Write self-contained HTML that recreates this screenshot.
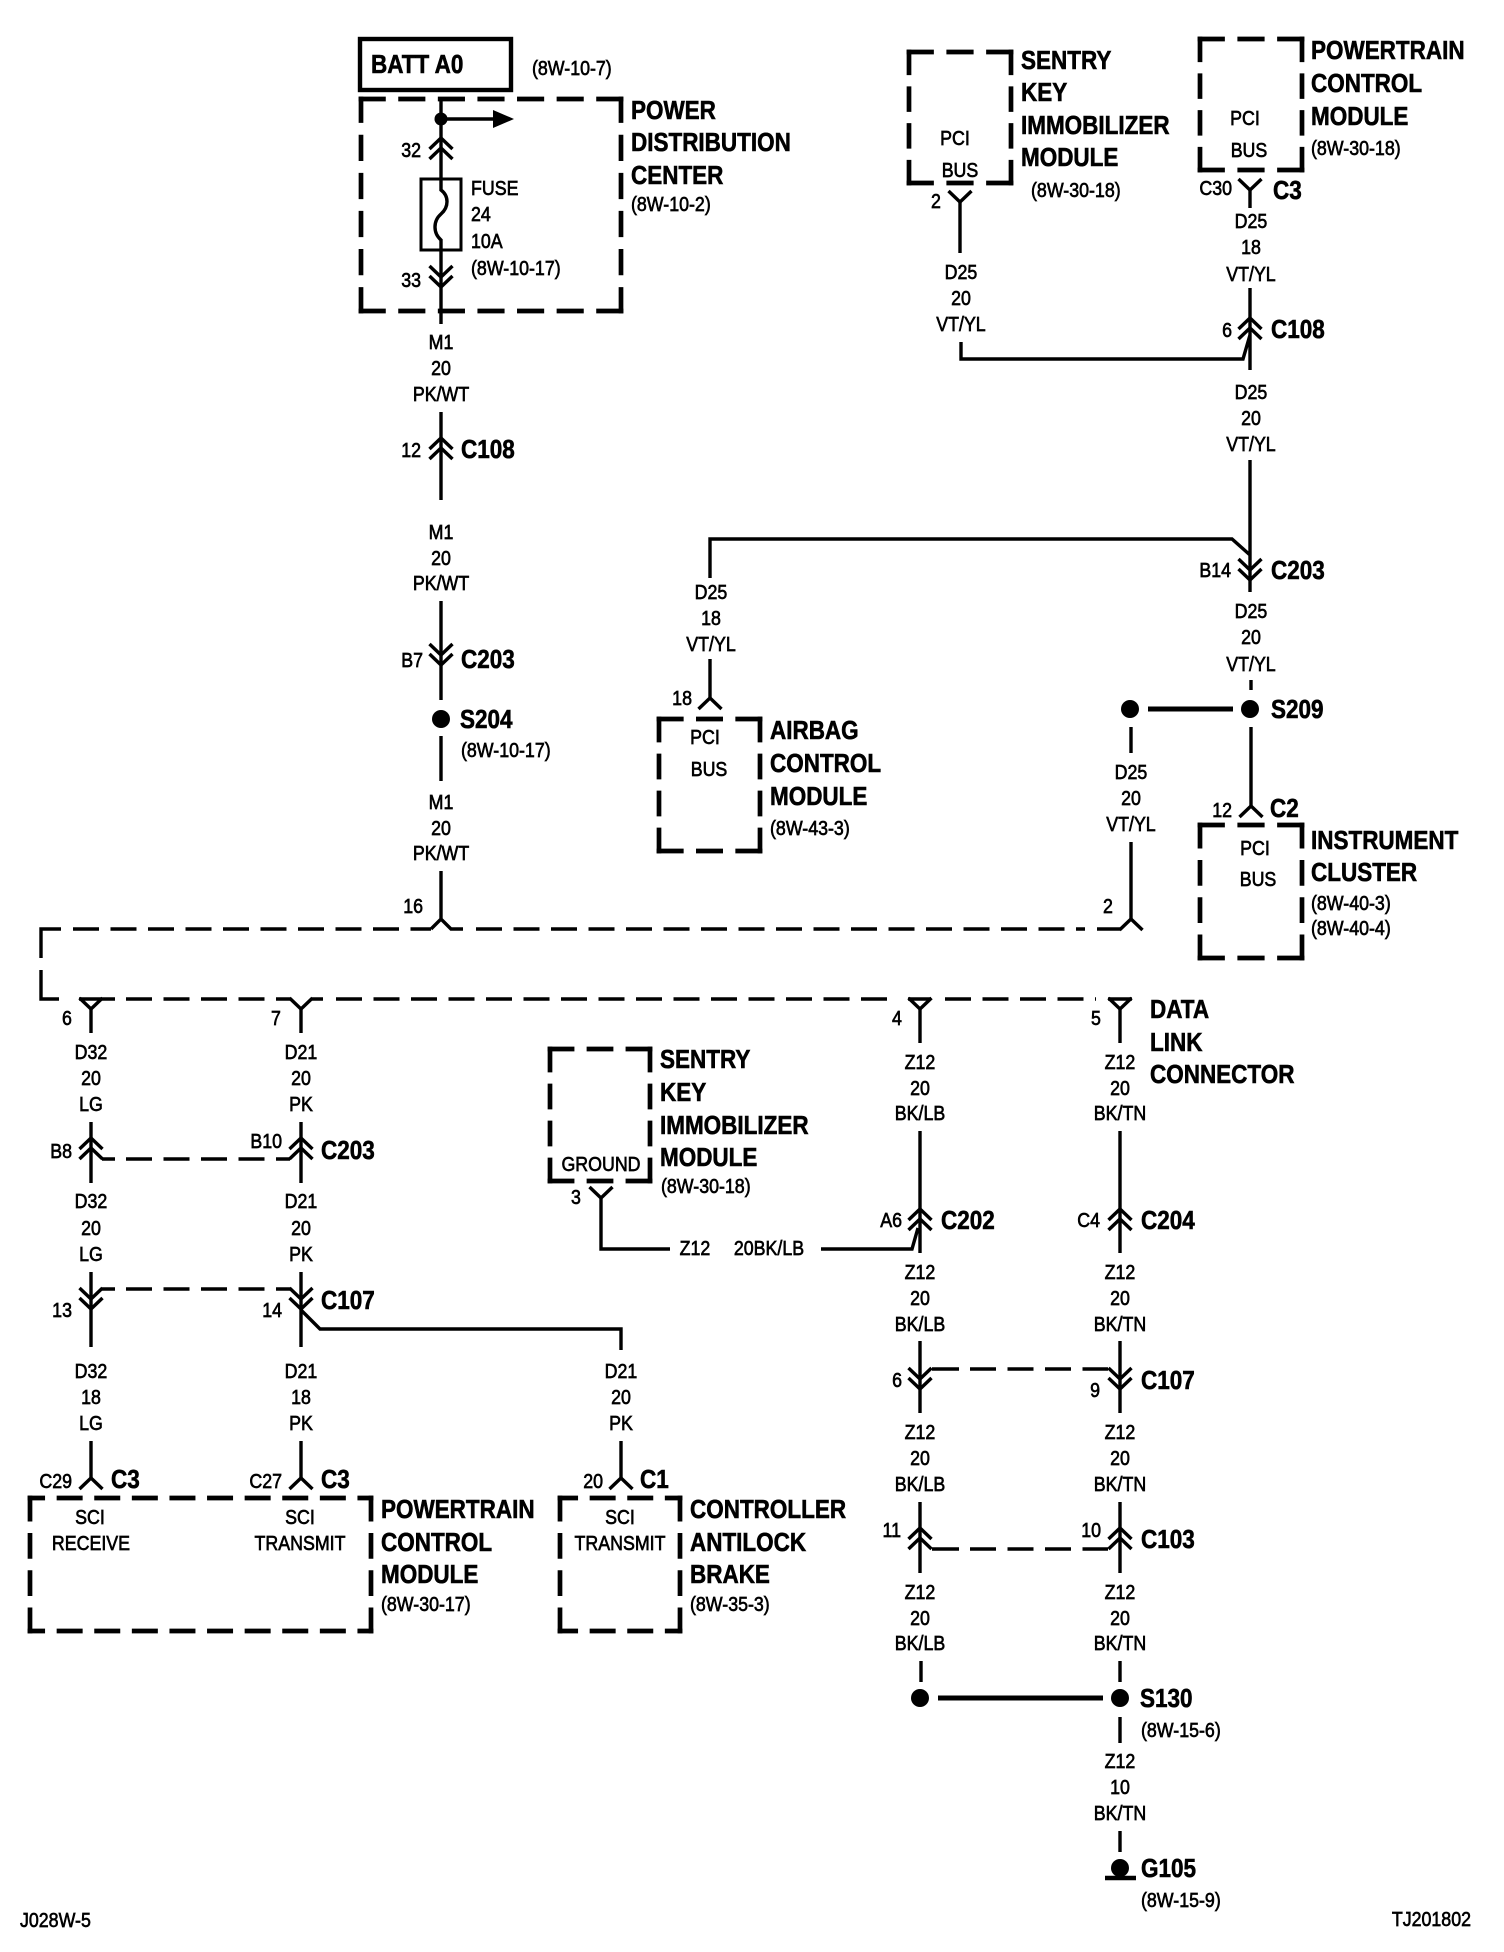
<!DOCTYPE html>
<html><head><meta charset="utf-8"><style>
html,body{margin:0;padding:0;background:#fff}
svg{display:block}
text{font-family:"Liberation Sans",sans-serif;fill:#000;transform-box:fill-box;transform-origin:left center}
.s{font-size:20px;stroke:#000;stroke-width:.65;transform:scaleX(.89)}
.b{font-size:26px;font-weight:bold;stroke:#000;stroke-width:.6;transform:scaleX(.865)}
.m{text-anchor:middle;transform-origin:center}
.e{text-anchor:end;transform-origin:right center}
.w{fill:none;stroke:#000;stroke-width:3.4}
.d{fill:none;stroke:#000;stroke-width:4.7;stroke-dasharray:21.3 16.3;stroke-linecap:square}
.l{fill:none;stroke:#000;stroke-width:3.4;stroke-dasharray:26 11.5}
</style></head><body>
<svg width="1504" height="1952" viewBox="0 0 1504 1952" xmlns="http://www.w3.org/2000/svg">
<defs>
<path id="up" class="w" d="M-11.5,11L0,0L11.5,11M-11.5,21L0,10L11.5,21"/>
<path id="dn" class="w" d="M-11.5,-11L0,0L11.5,-11M-11.5,-1L0,10L11.5,-1"/>
<path id="y" class="w" d="M-11.5,-11L0,0L11.5,-11"/>
<path id="a" class="w" d="M-11.5,11L0,0L11.5,11"/>
</defs>
<rect width="1504" height="1952" fill="#fff"/>

<!-- boxes -->
<rect x="360" y="39" width="151" height="51" fill="none" stroke="#000" stroke-width="4.4"/>
<path class="d" pathLength="493.8" d="M361,99H621M361,311H621"/><path class="d" pathLength="418.6" d="M361,99V311M621,99V311"/>
<path class="d" pathLength="193" d="M909,52H1011M909,183H1011"/><path class="d" pathLength="268.2" d="M909,52V183M1011,52V183"/>
<path class="d" pathLength="193" d="M1200,39H1302M1200,170H1302"/><path class="d" pathLength="268.2" d="M1200,39V170M1302,39V170"/>
<path class="d" pathLength="193" d="M659,719H760M659,851H760"/><path class="d" pathLength="268.2" d="M659,719V851M760,719V851"/>
<path class="d" pathLength="193" d="M1200,825H1302M1200,958H1302"/><path class="d" pathLength="268.2" d="M1200,825V958M1302,825V958"/>
<path class="d" pathLength="193" d="M550,1049H650M550,1181H650"/><path class="d" pathLength="268.2" d="M550,1049V1181M650,1049V1181"/>
<path class="d" stroke-dashoffset="8.6" d="M30,1498H371M30,1631H371"/><path class="d" pathLength="268.2" d="M30,1498V1631M371,1498V1631"/>
<path class="d" stroke-dashoffset="5.6" d="M560,1498H680M560,1631H680"/><path class="d" pathLength="268.2" d="M560,1498V1631M680,1498V1631"/>
<rect x="421" y="179" width="40" height="71" fill="none" stroke="#000" stroke-width="3"/>

<!-- wires -->
<path class="w" d="M441,99V190C449,196 449,207 441,214C433,221 433,233 441,240V324
M441,119H494
M441,412V500M441,601V700M441,736V781M441,871V919
M1131,842V919M1131,727V753
M61,929H41V958M41,970V999H59M431,929L441,919L451,929H463M1097,929H1120
M79,999H103M103,999H115M277,999H290M312,999H323M908,999H931M1108,999H1132
M91,1008V1033M301,1008V1033
M91,1122V1183M301,1122V1183
M102,1159H115M277,1159H290
M91,1272V1347M301,1272V1347
M102,1289H115M277,1289H290
M301,1310L320,1329H621V1350
M91,1441V1478M301,1441V1478M621,1441V1478
M960,202V253M961,342V359H1243L1250,335
M1250,190V208M1250,288V370M1250,460V592
M710,578V539H1232L1250,555
M1251,680V690M1251,727V806
M601,1198V1249H670M821,1249H912L918,1228
M710,659V698
M920,1009V1043M1120,1009V1043
M920,1131V1253M1120,1131V1253
M920,1341V1413M1120,1341V1413
M932,1369H959M1083,1369H1108
M920,1502V1573M1120,1502V1573
M932,1549H959M1083,1549H1108
M921,1661V1682M1120,1661V1682M1120,1717V1743M1120,1831V1852"/>
<path class="l" d="M73,929H431M476,929H1085M126,999H277M336,999H896M945,999H1096M126,1159H277M126,1289H277M970,1369H1083M970,1549H1083"/>
<polygon points="493,110 514,119 493,128"/>
<circle cx="441" cy="119" r="6.5"/>

<!-- connector marks -->
<use href="#up" x="441" y="138"/><use href="#dn" x="441" y="277"/>
<use href="#up" x="441" y="438"/><use href="#dn" x="441" y="655"/>
<use href="#y" x="960" y="202"/><use href="#y" x="1250" y="190"/>
<use href="#up" x="1250" y="318"/><use href="#dn" x="1250" y="570"/>
<use href="#a" x="710" y="698"/><use href="#a" x="1251" y="806"/>
<use href="#a" x="1131" y="919"/>
<use href="#y" x="91" y="1009"/><use href="#y" x="301" y="1009"/><use href="#y" x="920" y="1009"/><use href="#y" x="1120" y="1009"/>
<use href="#up" x="91" y="1138"/><use href="#up" x="301" y="1138"/>
<use href="#dn" x="91" y="1299"/><use href="#dn" x="301" y="1299"/>
<use href="#a" x="91" y="1478"/><use href="#a" x="301" y="1478"/><use href="#a" x="621" y="1478"/>
<use href="#y" x="601" y="1198"/>
<use href="#up" x="920" y="1209"/><use href="#up" x="1120" y="1209"/>
<use href="#dn" x="920" y="1379"/><use href="#dn" x="1120" y="1379"/>
<use href="#up" x="920" y="1528"/><use href="#up" x="1120" y="1528"/>

<!-- splices -->
<circle cx="441" cy="719" r="9"/>
<circle cx="1130" cy="709" r="9"/><circle cx="1250" cy="709" r="9"/>
<path d="M1148,709H1233M938,1698H1103" stroke="#000" stroke-width="5" fill="none"/>
<circle cx="920" cy="1698" r="9"/><circle cx="1120" cy="1698" r="9"/>
<circle cx="1120" cy="1868" r="9"/>
<path d="M1105,1878H1136" stroke="#000" stroke-width="4.5" fill="none"/>

<!-- bold labels -->
<text class="b" x="371" y="73">BATT A0</text>
<text class="b" x="631" y="119">POWER</text><text class="b" x="631" y="151">DISTRIBUTION</text><text class="b" x="631" y="184">CENTER</text>
<text class="b" x="1021" y="69">SENTRY</text><text class="b" x="1021" y="101">KEY</text><text class="b" x="1021" y="134">IMMOBILIZER</text><text class="b" x="1021" y="166">MODULE</text>
<text class="b" x="1311" y="59">POWERTRAIN</text><text class="b" x="1311" y="92">CONTROL</text><text class="b" x="1311" y="125">MODULE</text>
<text class="b" x="1273" y="199">C3</text><text class="b" x="1271" y="338">C108</text><text class="b" x="1271" y="579">C203</text><text class="b" x="1271" y="718">S209</text><text class="b" x="1270" y="817">C2</text>
<text class="b" x="1311" y="849">INSTRUMENT</text><text class="b" x="1311" y="881">CLUSTER</text>
<text class="b" x="461" y="458">C108</text><text class="b" x="461" y="668">C203</text><text class="b" x="460" y="728">S204</text>
<text class="b" x="770" y="739">AIRBAG</text><text class="b" x="770" y="772">CONTROL</text><text class="b" x="770" y="805">MODULE</text>
<text class="b" x="1150" y="1018">DATA</text><text class="b" x="1150" y="1051">LINK</text><text class="b" x="1150" y="1083">CONNECTOR</text>
<text class="b" x="660" y="1068">SENTRY</text><text class="b" x="660" y="1101">KEY</text><text class="b" x="660" y="1134">IMMOBILIZER</text><text class="b" x="660" y="1166">MODULE</text>
<text class="b" x="321" y="1159">C203</text><text class="b" x="321" y="1309">C107</text>
<text class="b" x="941" y="1229">C202</text><text class="b" x="1141" y="1229">C204</text><text class="b" x="1141" y="1389">C107</text><text class="b" x="1141" y="1548">C103</text>
<text class="b" x="111" y="1488">C3</text><text class="b" x="321" y="1488">C3</text><text class="b" x="640" y="1488">C1</text>
<text class="b" x="381" y="1518">POWERTRAIN</text><text class="b" x="381" y="1551">CONTROL</text><text class="b" x="381" y="1583">MODULE</text>
<text class="b" x="690" y="1518">CONTROLLER</text><text class="b" x="690" y="1551">ANTILOCK</text><text class="b" x="690" y="1583">BRAKE</text>
<text class="b" x="1140" y="1707">S130</text><text class="b" x="1141" y="1877">G105</text>

<!-- small labels -->
<text class="s" x="532" y="75">(8W-10-7)</text><text class="s" x="631" y="211">(8W-10-2)</text>
<text class="s" x="471" y="195">FUSE</text><text class="s" x="471" y="221">24</text><text class="s" x="471" y="248">10A</text><text class="s" x="471" y="275">(8W-10-17)</text>
<text class="s e" x="421" y="157">32</text><text class="s e" x="421" y="287">33</text><text class="s e" x="421" y="457">12</text><text class="s e" x="423" y="667">B7</text><text class="s" x="461" y="757">(8W-10-17)</text>
<text class="s m" x="441" y="349">M1</text><text class="s m" x="441" y="375">20</text><text class="s m" x="441" y="401">PK/WT</text>
<text class="s m" x="441" y="539">M1</text><text class="s m" x="441" y="565">20</text><text class="s m" x="441" y="590">PK/WT</text>
<text class="s m" x="441" y="809">M1</text><text class="s m" x="441" y="835">20</text><text class="s m" x="441" y="860">PK/WT</text>
<text class="s e" x="423" y="913">16</text><text class="s m" x="1108" y="913">2</text>

<text class="s m" x="955" y="145">PCI</text><text class="s m" x="960" y="177">BUS</text><text class="s m" x="936" y="208">2</text><text class="s" x="1031" y="197">(8W-30-18)</text>
<text class="s m" x="961" y="279">D25</text><text class="s m" x="961" y="305">20</text><text class="s m" x="961" y="331">VT/YL</text>
<text class="s m" x="1245" y="125">PCI</text><text class="s m" x="1249" y="157">BUS</text><text class="s e" x="1232" y="195">C30</text><text class="s" x="1311" y="155">(8W-30-18)</text>
<text class="s m" x="1251" y="228">D25</text><text class="s m" x="1251" y="254">18</text><text class="s m" x="1251" y="281">VT/YL</text>
<text class="s e" x="1232" y="337">6</text>
<text class="s m" x="1251" y="399">D25</text><text class="s m" x="1251" y="425">20</text><text class="s m" x="1251" y="451">VT/YL</text>
<text class="s e" x="1231" y="577">B14</text>
<text class="s m" x="1251" y="618">D25</text><text class="s m" x="1251" y="644">20</text><text class="s m" x="1251" y="671">VT/YL</text>
<text class="s m" x="1131" y="779">D25</text><text class="s m" x="1131" y="805">20</text><text class="s m" x="1131" y="831">VT/YL</text>
<text class="s e" x="1232" y="817">12</text><text class="s m" x="1255" y="855">PCI</text><text class="s m" x="1258" y="886">BUS</text>
<text class="s" x="1311" y="910">(8W-40-3)</text><text class="s" x="1311" y="935">(8W-40-4)</text>

<text class="s m" x="711" y="599">D25</text><text class="s m" x="711" y="625">18</text><text class="s m" x="711" y="651">VT/YL</text>
<text class="s e" x="692" y="705">18</text><text class="s m" x="705" y="744">PCI</text><text class="s m" x="709" y="776">BUS</text><text class="s" x="770" y="835">(8W-43-3)</text>

<text class="s m" x="67" y="1025">6</text><text class="s m" x="276" y="1025">7</text><text class="s m" x="897" y="1025">4</text><text class="s m" x="1096" y="1025">5</text>
<text class="s m" x="91" y="1059">D32</text><text class="s m" x="91" y="1085">20</text><text class="s m" x="91" y="1111">LG</text>
<text class="s m" x="301" y="1059">D21</text><text class="s m" x="301" y="1085">20</text><text class="s m" x="301" y="1111">PK</text>
<text class="s e" x="72" y="1158">B8</text><text class="s e" x="282" y="1148">B10</text>
<text class="s m" x="91" y="1208">D32</text><text class="s m" x="91" y="1235">20</text><text class="s m" x="91" y="1261">LG</text>
<text class="s m" x="301" y="1208">D21</text><text class="s m" x="301" y="1235">20</text><text class="s m" x="301" y="1261">PK</text>
<text class="s e" x="72" y="1317">13</text><text class="s e" x="282" y="1317">14</text>
<text class="s m" x="91" y="1378">D32</text><text class="s m" x="91" y="1404">18</text><text class="s m" x="91" y="1430">LG</text>
<text class="s m" x="301" y="1378">D21</text><text class="s m" x="301" y="1404">18</text><text class="s m" x="301" y="1430">PK</text>
<text class="s m" x="621" y="1404">20</text><text class="s m" x="621" y="1378">D21</text><text class="s m" x="621" y="1430">PK</text>
<text class="s e" x="72" y="1488">C29</text><text class="s e" x="282" y="1488">C27</text><text class="s e" x="603" y="1488">20</text>
<text class="s m" x="90" y="1524">SCI</text><text class="s m" x="91" y="1550">RECEIVE</text>
<text class="s m" x="300" y="1524">SCI</text><text class="s m" x="300" y="1550">TRANSMIT</text>
<text class="s m" x="620" y="1524">SCI</text><text class="s m" x="620" y="1550">TRANSMIT</text>
<text class="s" x="381" y="1611">(8W-30-17)</text><text class="s" x="690" y="1611">(8W-35-3)</text>

<text class="s m" x="601" y="1171">GROUND</text><text class="s m" x="576" y="1204">3</text><text class="s" x="661" y="1193">(8W-30-18)</text>
<text class="s m" x="695" y="1255">Z12</text><text class="s m" x="769" y="1255">20BK/LB</text>

<text class="s m" x="920" y="1069">Z12</text><text class="s m" x="920" y="1095">20</text><text class="s m" x="920" y="1120">BK/LB</text>
<text class="s m" x="1120" y="1069">Z12</text><text class="s m" x="1120" y="1095">20</text><text class="s m" x="1120" y="1120">BK/TN</text>
<text class="s e" x="902" y="1227">A6</text><text class="s e" x="1100" y="1227">C4</text>
<text class="s m" x="920" y="1279">Z12</text><text class="s m" x="920" y="1305">20</text><text class="s m" x="920" y="1331">BK/LB</text>
<text class="s m" x="1120" y="1279">Z12</text><text class="s m" x="1120" y="1305">20</text><text class="s m" x="1120" y="1331">BK/TN</text>
<text class="s e" x="902" y="1387">6</text><text class="s e" x="1100" y="1397">9</text>
<text class="s m" x="920" y="1439">Z12</text><text class="s m" x="920" y="1465">20</text><text class="s m" x="920" y="1491">BK/LB</text>
<text class="s m" x="1120" y="1439">Z12</text><text class="s m" x="1120" y="1465">20</text><text class="s m" x="1120" y="1491">BK/TN</text>
<text class="s e" x="901" y="1537">11</text><text class="s e" x="1101" y="1537">10</text>
<text class="s m" x="920" y="1599">Z12</text><text class="s m" x="920" y="1625">20</text><text class="s m" x="920" y="1650">BK/LB</text>
<text class="s m" x="1120" y="1599">Z12</text><text class="s m" x="1120" y="1625">20</text><text class="s m" x="1120" y="1650">BK/TN</text>
<text class="s" x="1141" y="1737">(8W-15-6)</text>
<text class="s m" x="1120" y="1768">Z12</text><text class="s m" x="1120" y="1794">10</text><text class="s m" x="1120" y="1820">BK/TN</text>
<text class="s" x="1141" y="1907">(8W-15-9)</text>
<text class="s" x="20" y="1927">J028W-5</text>
<text class="s e" x="1471" y="1926">TJ201802</text>
</svg>
</body></html>
